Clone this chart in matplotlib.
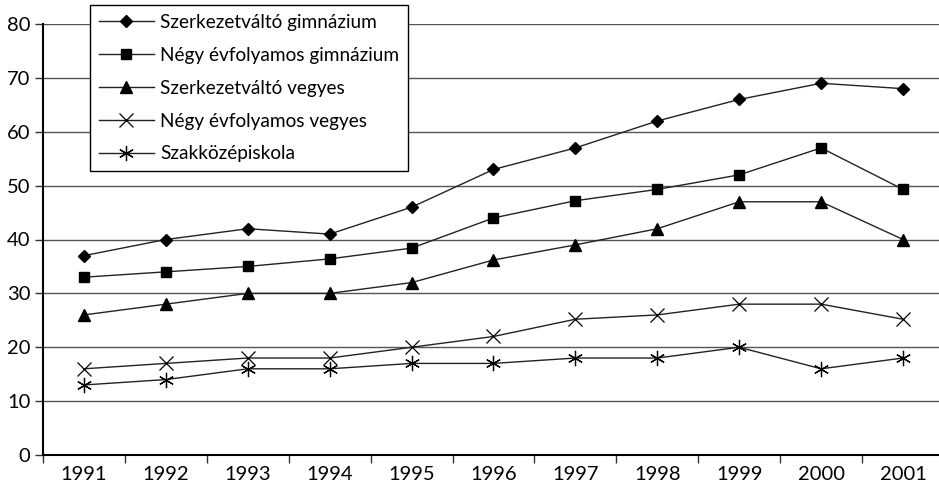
import matplotlib.pyplot as plt
import numpy as np

plt.rcParams['font.family'] = ['Lato', 'DejaVu Sans']

# Évek és sorozatok
evek = ['1991', '1992', '1993', '1994', '1995', '1996', '1997', '1998', '1999', '2000', '2001']
szerk_gimn = [37, 40, 42, 41, 46, 53, 57, 62, 66, 69, 68]
negy_gimn = [33, 34, 35, 36.4, 38.4, 44, 47.2, 49.3, 52, 57, 49.3]
szerk_vegyes = [26, 28, 30, 30, 32, 36.2, 39, 42, 47, 47, 40]
negy_vegyes = [16, 17, 18, 18, 20, 22, 25.2, 26, 28, 28, 25.2]
szakkozep = [13, 14, 16, 16, 17, 17, 18, 18, 20, 16, 18]

fig = plt.figure(figsize=(9.39, 4.88), dpi=100)
ax = fig.add_axes([43 / 939, 33 / 488, (944 - 43) / 939, (455 - 24) / 488])

x = np.arange(len(evek))
vonal = dict(color='#222222', linewidth=1.0, markeredgecolor='black', markerfacecolor='black')
ax.plot(x, szerk_gimn, marker='D', markersize=6.5, label='Szerkezetváltó gimnázium', **vonal)
ax.plot(x, negy_gimn, marker='s', markersize=7, label='Négy évfolyamos gimnázium', **vonal)
ax.plot(x, szerk_vegyes, marker='^', markersize=8, label='Szerkezetváltó vegyes', **vonal)
ax.plot(x, negy_vegyes, marker='x', markersize=10, markeredgewidth=0.9, label='Négy évfolyamos vegyes',
        color='#222222', linewidth=1.0, markeredgecolor='black')
ax.plot(x, szakkozep, marker=(6, 2, 0), markersize=11, markeredgewidth=0.9, label='Szakközépiskola',
        color='#222222', linewidth=1.0, markeredgecolor='black')

ax.set_xlim(-0.5, len(evek) - 0.5)
ax.set_ylim(0, 80)
ax.set_yticks(range(0, 81, 10))
ax.set_xticks(x)
ax.set_xticklabels(evek)
ax.set_xticks(np.arange(-0.5, len(evek), 1), minor=True)
ax.tick_params(axis='x', which='major', length=0, labelsize=14.5, pad=8)
ax.tick_params(axis='x', which='minor', length=6, width=1, direction='out', color='#333333')
ax.tick_params(axis='y', length=6, width=1, direction='out', labelsize=14.5, pad=3, color='#333333')

ax.grid(axis='y', color='#555555', linewidth=1.0)
ax.set_axisbelow(True)
for s in ['top', 'right']:
    ax.spines[s].set_visible(False)
for s in ['left', 'bottom']:
    ax.spines[s].set_color('black')
    ax.spines[s].set_linewidth(1.5)

leg = fig.legend(loc='upper left', bbox_to_anchor=(90 / 939, 1 - 5 / 488), fontsize=13.7,
                 frameon=True, fancybox=False, shadow=False, handlelength=2.9,
                 handletextpad=0.35, labelspacing=0.84, borderpad=0.45, borderaxespad=0)
leg.get_frame().set_edgecolor('black')
leg.get_frame().set_linewidth(1.0)
leg.get_frame().set_alpha(1)

fig.savefig('out.png', dpi=100)
